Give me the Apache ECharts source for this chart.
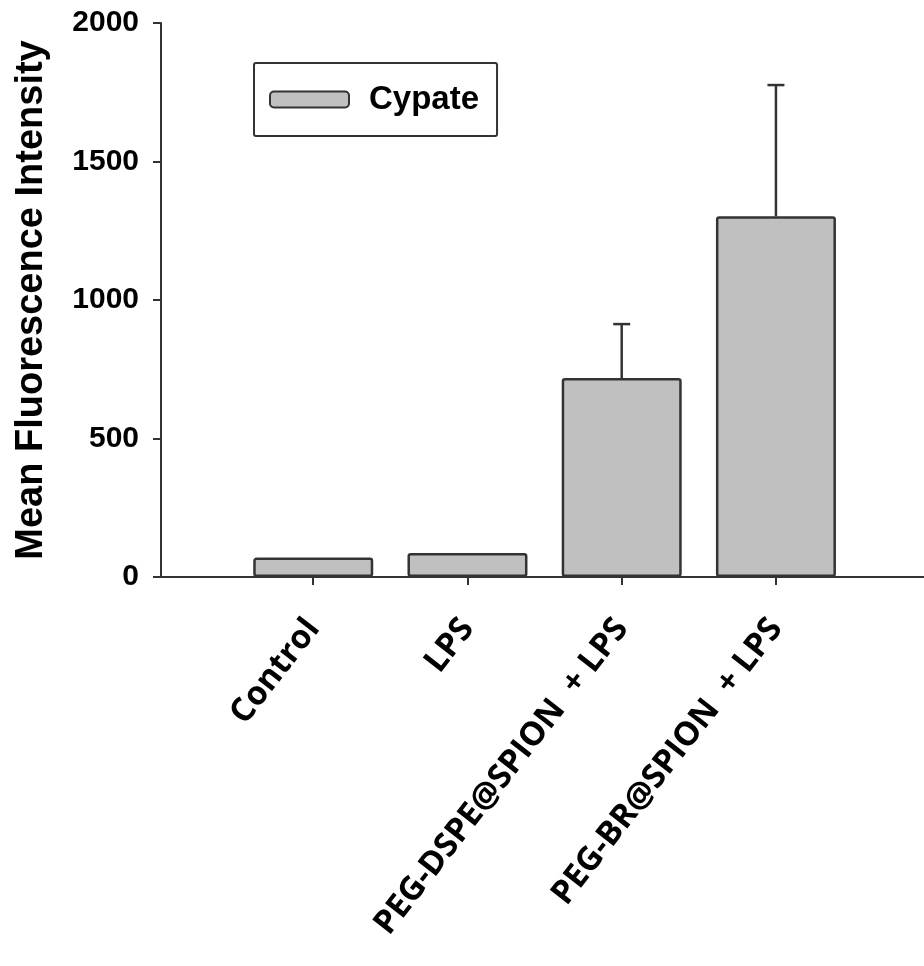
<!DOCTYPE html>
<html>
<head>
<meta charset="utf-8">
<script src="https://cdn.jsdelivr.net/npm/echarts@6/dist/echarts.min.js"></script>
<style>
  html, body { margin: 0; padding: 0; background: #fff; }
  #chart { width: 924px; height: 966px; }
</style>
</head>
<body>
<div id="chart"></div>
<script>
// Groups on the x axis
const categories = ['Control', 'LPS', 'PEG-DSPE@SPION  + LPS', 'PEG-BR@SPION  + LPS'];
// Mean fluorescence intensity per group
const means = [70, 87, 718, 1302];
// Upper error (SD) per group; null = no error bar
const errors = [null, null, 195, 474];
// Y axis ticks
const yTicks = [0, 500, 1000, 1500, 2000];

// Groups sit at positions 1..n on a numeric x scale
const positions = categories.map(function (c, i) { return i + 1; });
const barData = positions.map(function (p, i) { return [p, means[i]]; });
const errData = [];
positions.forEach(function (p, i) {
  if (errors[i] != null) errData.push([p, means[i], means[i] + errors[i]]);
});

const ink = '#333333';
const chart = echarts.init(document.getElementById('chart'), null, { renderer: 'canvas' });

chart.setOption({
  animation: false,
  backgroundColor: '#ffffff',
  grid: { left: 159, right: 0, top: 23, bottom: 389, containLabel: false },
  legend: {
    left: 254,
    top: 63,
    padding: [17, 18, 17, 15],
    backgroundColor: '#ffffff',
    borderColor: ink,
    borderWidth: 2,
    borderRadius: 2,
    itemWidth: 79,
    itemHeight: 16,
    data: [{ name: 'Cypate', icon: 'roundRect' }],
    textStyle: {
      fontFamily: 'Liberation Sans, Arial, sans-serif',
      fontWeight: 'bold',
      fontSize: 33,
      color: '#000',
      lineHeight: 36,
      padding: [3, 0, 0, 15]
    }
  },
  xAxis: {
    type: 'value',
    min: 0,
    max: 4.96,
    axisLine: { show: true, onZero: false, lineStyle: { color: ink, width: 2 } },
    axisTick: {
      show: true,
      length: 8,
      customValues: positions,
      lineStyle: { color: ink, width: 2 }
    },
    axisLabel: {
      customValues: positions,
      rotate: 52,
      margin: 46,
      formatter: function (v) { return categories[Math.round(v) - 1] || ''; },
      fontFamily: 'Open Sans, Noto Sans, sans-serif',
      fontWeight: 'bold',
      fontSize: 33,
      color: '#000'
    },
    splitLine: { show: false }
  },
  yAxis: {
    type: 'value',
    min: yTicks[0],
    max: yTicks[yTicks.length - 1],
    interval: yTicks[1] - yTicks[0],
    offset: -2,
    name: 'Mean Fluorescence Intensity',
    nameLocation: 'middle',
    nameRotate: 90,
    nameGap: 110,
    nameTextStyle: {
      fontFamily: 'Liberation Sans, Arial, sans-serif',
      fontWeight: 'bold',
      fontSize: 38,
      color: '#000'
    },
    axisLine: { show: true, lineStyle: { color: ink, width: 2 } },
    axisTick: { show: true, length: 8, lineStyle: { color: ink, width: 2 } },
    axisLabel: {
      margin: 22,
      formatter: function (v) { return String(v); },
      fontFamily: 'Liberation Sans, Arial, sans-serif',
      fontWeight: 'bold',
      fontSize: 30,
      color: '#000'
    },
    splitLine: { show: false }
  },
  series: [
    {
      name: 'Cypate',
      type: 'bar',
      data: barData,
      barWidth: 120,
      itemStyle: {
        color: '#c0c0c0',
        borderColor: ink,
        borderWidth: 2.5,
        borderRadius: 2
      },
      z: 2
    },
    {
      name: 'err',
      type: 'custom',
      data: errData,
      z: 3,
      renderItem: function (params, api) {
        const x = api.value(0);
        const base = api.coord([x, api.value(1)]);
        const top = api.coord([x, api.value(2)]);
        const half = 8.5;
        const style = { stroke: ink, lineWidth: 2.5 };
        return {
          type: 'group',
          children: [
            { type: 'line', shape: { x1: base[0], y1: base[1], x2: top[0], y2: top[1] }, style: style },
            { type: 'line', shape: { x1: top[0] - half, y1: top[1], x2: top[0] + half, y2: top[1] }, style: style }
          ]
        };
      }
    }
  ]
});
</script>
</body>
</html>
